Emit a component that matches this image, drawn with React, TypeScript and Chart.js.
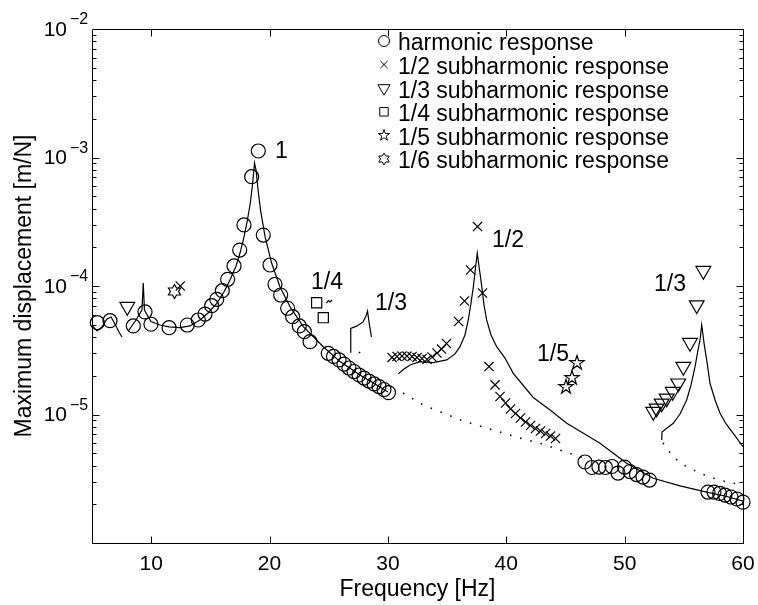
import { useEffect, useRef } from 'react';
import { Chart, registerables } from 'chart.js';

Chart.register(...registerables);

// ---------- Axis ticks ----------
const xTickValues = [10, 20, 30, 40, 50, 60];
const xTickLabels = ['10', '20', '30', '40', '50', '60'];
const yTickValues = [1e-2, 1e-3, 1e-4, 1e-5];
const yTickExponents = ['\u22122', '\u22123', '\u22124', '\u22125'];

// ---------- Measured responses (markers) ----------
const harmonicFreq = [5.45, 6.52, 8.49, 9.48, 9.98, 11.51, 13.05, 13.98, 14.55, 15.11, 15.54, 16.01, 16.46, 17.0, 17.48, 17.84, 18.49, 19.05, 19.47, 20.04, 20.46, 20.94, 21.53, 21.95, 22.51, 22.94, 23.42, 24.96, 25.4, 25.87, 26.29, 26.71, 27.14, 27.56, 27.98, 28.4, 28.83, 29.25, 29.67, 30.05, 46.65, 47.24, 47.83, 48.38, 48.93, 49.44, 49.99, 50.45, 51.0, 51.55, 52.1, 57.04, 57.55, 58.02, 58.48, 58.99, 59.49, 60.0];
const harmonicVal = [5.18e-5, 5.37e-5, 4.89e-5, 6.28e-5, 5.04e-5, 4.74e-5, 4.97e-5, 5.44e-5, 6.05e-5, 7.03e-5, 7.88e-5, 9.19e-5, 1.127e-4, 1.432e-4, 1.905e-4, 2.985e-4, 7.09e-4, 1.124e-3, 2.49e-4, 1.457e-4, 1.03e-4, 8.51e-5, 6.71e-5, 5.77e-5, 4.89e-5, 4.41e-5, 3.69e-5, 2.995e-5, 2.83e-5, 2.66e-5, 2.47e-5, 2.3e-5, 2.16e-5, 2.03e-5, 1.92e-5, 1.82e-5, 1.73e-5, 1.65e-5, 1.565e-5, 1.48e-5, 4.27e-6, 3.87e-6, 3.9e-6, 3.87e-6, 3.94e-6, 3.5e-6, 3.9e-6, 3.6e-6, 3.41e-6, 3.26e-6, 3.09e-6, 2.49e-6, 2.49e-6, 2.43e-6, 2.36e-6, 2.28e-6, 2.2e-6, 2.08e-6];

const sub2Freq = [12.46, 30.35, 30.77, 31.19, 31.61, 32.04, 32.46, 32.88, 33.3, 33.73, 34.15, 34.53, 34.95, 35.97, 36.47, 36.98, 37.57, 37.99, 38.54, 39.05, 39.47, 39.94, 40.36, 40.78, 41.2, 41.63, 42.05, 42.47, 42.89, 43.32, 43.74, 44.16];
const sub2Val = [1.0e-4, 2.78e-5, 2.83e-5, 2.85e-5, 2.85e-5, 2.83e-5, 2.78e-5, 2.73e-5, 2.68e-5, 2.8e-5, 3.01e-5, 3.23e-5, 3.57e-5, 5.29e-5, 7.64e-5, 1.332e-4, 2.9e-4, 8.82e-5, 2.36e-5, 1.7e-5, 1.38e-5, 1.229e-5, 1.104e-5, 1.018e-5, 9.39e-6, 8.74e-6, 8.21e-6, 7.78e-6, 7.44e-6, 7.11e-6, 6.8e-6, 6.5e-6];

const sub3Freq = [7.98, 52.42, 52.7, 53.13, 53.55, 54.06, 54.53, 54.96, 55.52, 56.09, 56.65];
const sub3Val = [6.9e-5, 1.051e-5, 1.117e-5, 1.222e-5, 1.337e-5, 1.504e-5, 1.75e-5, 2.355e-5, 3.62e-5, 7.11e-5, 1.315e-4];

const sub4Freq = [23.98, 24.54];
const sub4Val = [7.41e-5, 5.67e-5];

const sub5Freq = [45.05, 45.53, 46.0];
const sub5Val = [1.628e-5, 1.934e-5, 2.53e-5];

const sub6Freq = [12.01];
const sub6Val = [9.03e-5];

// ---------- Computed curves (lines) ----------
const curveLowFreq = [5.0, 5.42, 5.84, 6.27, 6.61, 6.94, 7.28, 7.53];
const curveLowVal = [4.97e-5, 4.47e-5, 4.8e-5, 5.54e-5, 5.74e-5, 5.06e-5, 4.39e-5, 4.01e-5];

const curveHarmFreq = [8.07, 8.72, 9.22, 9.33, 9.43, 9.98, 10.75, 11.51, 12.43, 13.28, 14.12, 14.8, 15.54, 16.15, 16.66, 17.17, 17.5, 17.84, 18.1, 18.35, 18.56, 18.73, 18.86, 19.03, 19.24, 19.62, 20.18, 20.88, 21.73, 22.85, 24.54, 25.95, 27.64, 28.91, 30.01];
const curveHarmVal = [4.47e-5, 5.44e-5, 6.5e-5, 1.055e-4, 6.5e-5, 5.29e-5, 4.97e-5, 4.8e-5, 4.75e-5, 4.89e-5, 5.44e-5, 6.17e-5, 7.33e-5, 8.98e-5, 1.113e-4, 1.431e-4, 1.797e-4, 2.405e-4, 3.15e-4, 4.27e-4, 6.11e-4, 9.06e-4, 7.99e-4, 5.59e-4, 3.9e-4, 2.42e-4, 1.502e-4, 9.88e-5, 6.9e-5, 4.83e-5, 3.37e-5, 2.58e-5, 2.03e-5, 1.73e-5, 1.497e-5];

const curveQuarterFreq = [24.81, 24.97, 25.11, 25.28];
const curveQuarterVal = [7.37e-5, 7.71e-5, 7.51e-5, 7.78e-5];

const curveThirdLowFreq = [26.8, 26.86, 27.39, 27.9, 28.15, 28.28, 28.4, 28.61];
const curveThirdLowVal = [3.06e-5, 4.67e-5, 4.89e-5, 5.25e-5, 5.84e-5, 6.39e-5, 5.25e-5, 4.01e-5];

const dotThirdLowFreq = [27.56, 28.15];
const dotThirdLowVal = [3.01e-5, 3.41e-5];

const curveHalfFreq = [30.88, 31.36, 31.87, 32.71, 33.84, 34.97, 35.67, 36.09, 36.51, 36.79, 37.02, 37.22, 37.4, 37.55, 37.74, 37.93, 38.12, 38.34, 38.71, 39.19, 39.89, 40.59, 42.28, 43.7, 45.11, 47.92, 50.17, 52.42, 54.68, 56.93, 58.48, 60.0];
const curveHalfVal = [2.07e-5, 2.26e-5, 2.43e-5, 2.58e-5, 2.53e-5, 2.66e-5, 2.96e-5, 3.37e-5, 4.16e-5, 5.44e-5, 7.37e-5, 9.88e-5, 1.38e-4, 1.797e-4, 1.332e-4, 9.88e-5, 7.11e-5, 5.44e-5, 4.16e-5, 3.37e-5, 2.75e-5, 2.09e-5, 1.356e-5, 1.084e-5, 8.54e-6, 5.97e-6, 4.17e-6, 3.19e-6, 2.78e-6, 2.49e-6, 2.32e-6, 2.12e-6];

const dotHarmFreq = [31.28, 32.97, 34.66, 36.35, 38.03, 39.72, 41.41, 43.1, 44.54, 46.48];
const dotHarmVal = [1.47e-5, 1.186e-5, 1.027e-5, 8.9e-6, 7.99e-6, 7.18e-6, 6.45e-6, 5.89e-6, 5.29e-6, 4.59e-6];

const curveThirdHighFreq = [53.13, 53.16, 53.58, 54.11, 54.68, 55.24, 55.61, 55.95, 56.2, 56.37, 56.51, 56.62, 56.71, 56.96, 57.21, 57.64, 58.06, 58.57, 59.18, 60.0];
const curveThirdHighVal = [6.33e-6, 7.31e-6, 7.85e-6, 8.54e-6, 1.009e-5, 1.297e-5, 1.7e-5, 2.355e-5, 3.18e-5, 3.8e-5, 4.97e-5, 4.16e-5, 3.58e-5, 2.56e-5, 1.75e-5, 1.297e-5, 1.022e-5, 8.44e-6, 7.14e-6, 5.62e-6];

const dotThirdHighFreq = [53.24, 54.09, 55.27, 56.37, 57.47, 58.65, 60.0];
const dotThirdHighVal = [6.0e-6, 4.67e-6, 3.9e-6, 3.5e-6, 3.2e-6, 2.98e-6, 2.83e-6];

// ---------- Annotations & legend ----------
const annotationText = ['1', '1/2', '1/4', '1/3', '1/5', '1/3'];
const annotationFreq = [21.01, 40.15, 24.85, 30.26, 43.95, 53.83];
const annotationVal = [1.104e-3, 2.24e-4, 1.055e-4, 7.24e-5, 2.9e-5, 1.018e-4];

const legendLabels = ['harmonic response', '1/2 subharmonic response', '1/3 subharmonic response', '1/4 subharmonic response', '1/5 subharmonic response', '1/6 subharmonic response'];

const xTitle = 'Frequency [Hz]';
const yTitle = 'Maximum displacement [m/N]';

type MarkerKind = 'circle' | 'cross' | 'triDown' | 'square' | 'pentagram' | 'hexagram';
const legendKinds: MarkerKind[] = ['circle', 'cross', 'triDown', 'square', 'pentagram', 'hexagram'];

const FONT = '"Liberation Sans", Arial, Helvetica, sans-serif';

function pathMarker(ctx: CanvasRenderingContext2D, kind: MarkerKind, x: number, y: number, r: number) {
  ctx.beginPath();
  if (kind === 'circle') {
    ctx.arc(x, y, r, 0, Math.PI * 2);
  } else if (kind === 'cross') {
    const d = r * 0.7071;
    ctx.moveTo(x - d, y - d);
    ctx.lineTo(x + d, y + d);
    ctx.moveTo(x + d, y - d);
    ctx.lineTo(x - d, y + d);
  } else if (kind === 'triDown') {
    ctx.moveTo(x - r * 0.866, y - r * 0.5);
    ctx.lineTo(x + r * 0.866, y - r * 0.5);
    ctx.lineTo(x, y + r);
    ctx.closePath();
  } else if (kind === 'square') {
    const s = r * 0.7071;
    ctx.rect(x - s, y - s, 2 * s, 2 * s);
  } else {
    const n = kind === 'pentagram' ? 5 : 6;
    const ri = kind === 'pentagram' ? r * 0.382 : r * 0.577;
    for (let i = 0; i < 2 * n; i++) {
      const a = -Math.PI / 2 + (i * Math.PI) / n;
      const rr = i % 2 === 0 ? r : ri;
      const px = x + rr * Math.cos(a);
      const py = y + rr * Math.sin(a);
      if (i === 0) ctx.moveTo(px, py);
      else ctx.lineTo(px, py);
    }
    ctx.closePath();
  }
  ctx.stroke();
}

function markerImage(kind: MarkerKind, r: number, lw: number) {
  const size = Math.ceil(2 * r + 2 * lw + 4);
  const c = document.createElement('canvas');
  c.width = size;
  c.height = size;
  const ctx = c.getContext('2d')!;
  ctx.strokeStyle = '#000';
  ctx.lineWidth = lw;
  pathMarker(ctx, kind, size / 2, size / 2, r);
  return c;
}

const xy = (f: number[], v: number[]) => f.map((x, i) => ({ x, y: v[i] }));

const crispPlugin = {
  id: 'crisp',
  beforeDatasetsDraw(chart: any) {
    chart.ctx.save();
    chart.ctx.imageSmoothingEnabled = false;
  },
  afterDatasetsDraw(chart: any) {
    chart.ctx.restore();
  },
};

const decorPlugin = {
  id: 'decor',
  afterDraw(chart: any) {
    const { ctx, chartArea } = chart;
    const { left, right, top, bottom } = chartArea;
    const xs = chart.scales.x;
    const ys = chart.scales.y;
    ctx.save();
    ctx.strokeStyle = '#000';
    ctx.lineWidth = 1;
    const L = Math.round(left) + 0.5, R = Math.round(right) + 0.5, T = Math.round(top) + 0.5, B = Math.round(bottom) + 0.5;
    ctx.beginPath();
    ctx.rect(L, T, R - L, B - T);
    ctx.stroke();
    ctx.beginPath();
    xTickValues.forEach((v) => {
      const px = Math.round(xs.getPixelForValue(v)) + 0.5;
      ctx.moveTo(px, B);
      ctx.lineTo(px, B - 7);
      ctx.moveTo(px, T);
      ctx.lineTo(px, T + 7);
    });
    for (let e = -6; e <= -3; e++) {
      for (let m = 1; m <= 9; m++) {
        const v = m * Math.pow(10, e);
        const py = Math.round(ys.getPixelForValue(v)) + 0.5;
        const len = m === 1 ? 7 : 4;
        ctx.moveTo(L, py);
        ctx.lineTo(L + len, py);
        ctx.moveTo(R, py);
        ctx.lineTo(R - len, py);
      }
    }
    ctx.stroke();

    ctx.fillStyle = '#000';
    ctx.font = `21px ${FONT}`;
    ctx.textAlign = 'center';
    ctx.textBaseline = 'middle';
    xTickValues.forEach((v, i) => {
      ctx.fillText(xTickLabels[i], xs.getPixelForValue(v), 564);
    });
    yTickValues.forEach((v, i) => {
      const py = ys.getPixelForValue(v);
      ctx.font = `21px ${FONT}`;
      ctx.textAlign = 'right';
      ctx.textBaseline = 'middle';
      ctx.fillText('10', 67, py + 1);
      ctx.font = `16px ${FONT}`;
      ctx.textAlign = 'left';
      ctx.fillText(yTickExponents[i], 70, py - 9);
    });
    ctx.font = `23px ${FONT}`;
    ctx.textAlign = 'center';
    ctx.textBaseline = 'middle';
    ctx.fillText(xTitle, (left + right) / 2, 590);
    ctx.save();
    ctx.translate(25, (top + bottom) / 2);
    ctx.rotate(-Math.PI / 2);
    ctx.fillText(yTitle, 0, 0);
    ctx.restore();

    ctx.font = `23px ${FONT}`;
    annotationText.forEach((t, i) => {
      ctx.fillText(t, xs.getPixelForValue(annotationFreq[i]), ys.getPixelForValue(annotationVal[i]));
    });

    const legendMarkerR = [5.5, 5, 7, 6, 6, 6];
    ctx.lineWidth = 1;
    legendLabels.forEach((t, i) => {
      const y0 = 41 + i * 23.6;
      pathMarker(ctx, legendKinds[i], 384, y0, legendMarkerR[i]);
      ctx.font = `23px ${FONT}`;
      ctx.textAlign = 'left';
      ctx.textBaseline = 'middle';
      ctx.fillText(t, 398, y0 + 3);
    });
    ctx.restore();
  },
};

export default function App() {
  const ref = useRef<HTMLCanvasElement | null>(null);
  useEffect(() => {
    const canvas = ref.current;
    if (!canvas) return;
    const imgPent = markerImage('pentagram', 7.5, 1.2);
    const imgHex = markerImage('hexagram', 7, 1.2);

    const lineDs = (f: number[], v: number[], dotted = false) => ({
      type: 'line' as const,
      data: xy(f, v),
      showLine: true,
      borderColor: '#000',
      borderWidth: dotted ? 1.6 : 1.2,
      borderDash: dotted ? [1.5, 9] : [],
      pointRadius: 0,
      tension: 0,
      fill: false,
    });
    const markDs = (f: number[], v: number[], style: any, radius: number, rotation = 0) => ({
      type: 'scatter' as const,
      data: xy(f, v),
      showLine: false,
      pointStyle: style,
      pointRadius: radius,
      pointRotation: rotation,
      pointBorderWidth: 1.2,
      pointBorderColor: '#000',
      pointBackgroundColor: 'rgba(0,0,0,0)',
      clip: false as any,
    });

    const chart = new Chart(canvas, {
      type: 'scatter',
      data: {
        datasets: [
          markDs(harmonicFreq, harmonicVal, 'circle', 7),
          markDs(sub2Freq, sub2Val, 'crossRot', 6.5),
          markDs(sub3Freq, sub3Val, 'triangle', 8.5, 180),
          markDs(sub4Freq, sub4Val, 'rect', 7.2),
          markDs(sub5Freq, sub5Val, imgPent, 6),
          markDs(sub6Freq, sub6Val, imgHex, 6),
          lineDs(curveLowFreq, curveLowVal),
          lineDs(curveHarmFreq, curveHarmVal),
          lineDs(curveQuarterFreq, curveQuarterVal),
          lineDs(curveThirdLowFreq, curveThirdLowVal),
          lineDs(dotThirdLowFreq, dotThirdLowVal, true),
          lineDs(curveHalfFreq, curveHalfVal),
          lineDs(dotHarmFreq, dotHarmVal, true),
          lineDs(curveThirdHighFreq, curveThirdHighVal),
          lineDs(dotThirdHighFreq, dotThirdHighVal, true),
        ] as any,
      },
      options: {
        animation: false,
        responsive: false,
        events: [],
        layout: { padding: { top: 29, right: 15, left: 0, bottom: 0 } },
        plugins: { legend: { display: false }, tooltip: { enabled: false } },
        scales: {
          x: {
            type: 'linear',
            min: 5,
            max: 60,
            grid: { display: false },
            border: { display: false },
            ticks: { display: false },
            afterFit: (s: any) => { s.height = 62; },
          },
          y: {
            type: 'logarithmic',
            min: 1e-6,
            max: 1e-2,
            grid: { display: false },
            border: { display: false },
            ticks: { display: false },
            afterFit: (s: any) => { s.width = 92; },
          },
        },
      },
      plugins: [crispPlugin, decorPlugin],
    });
    return () => chart.destroy();
  }, []);

  return (
    <div style={{ position: 'absolute', left: 0, top: 0, width: 758, height: 605, background: '#fff' }}>
      <canvas ref={ref} width={758} height={605} style={{ display: 'block' }} />
    </div>
  );
}
